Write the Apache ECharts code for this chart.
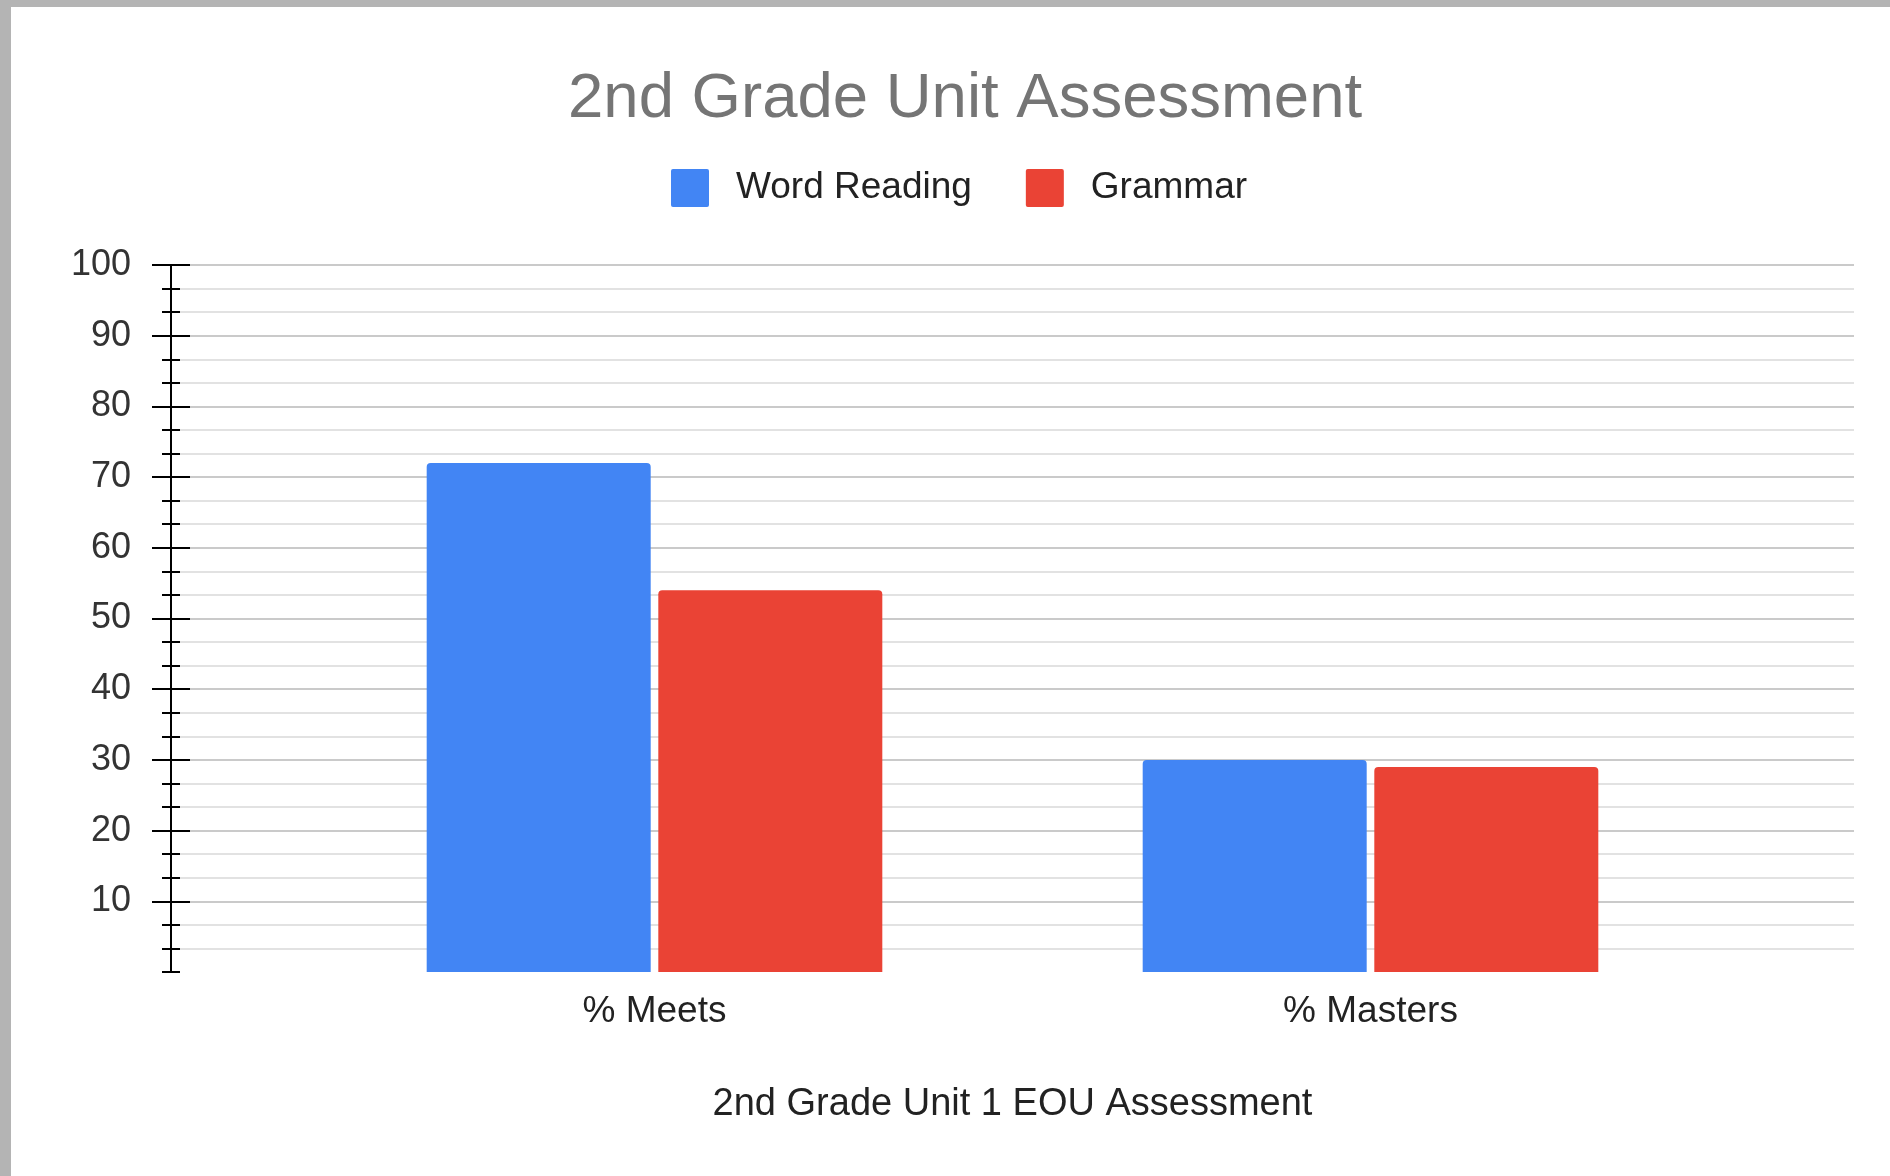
<!DOCTYPE html>
<html>
<head>
<meta charset="utf-8">
<script src="https://cdn.jsdelivr.net/npm/echarts@6/dist/echarts.min.js"></script>
<style>
  html, body { margin: 0; padding: 0; background: #b4b4b4; }
  #chart { position: absolute; left: 11px; top: 7px; width: 1879px; height: 1169px; background: #fff; }
</style>
</head>
<body>
<div id="chart"></div>
<script>
// data
const categories = ['% Meets', '% Masters'];
const wordReading = [72, 30];
const grammar = [54, 29];
const majorTicks = [10, 20, 30, 40, 50, 60, 70, 80, 90, 100];
const zeroTick = [0];

const FONT = "'Liberation Sans', Arial, sans-serif";
// 图例方块，小圆角
const ICON = 'path://M2,0 H36 A2,2 0 0 1 38,2 V36 A2,2 0 0 1 36,38 H2 A2,2 0 0 1 0,36 V2 A2,2 0 0 1 2,0 Z';

const chart = echarts.init(document.getElementById('chart'));

// y轴：刻度穿过轴线，所以用两根轴叠在一起（一根朝外，一根朝内）
const baseY = {
  type: 'value',
  gridIndex: 0,
  min: 0,
  max: 100,
  interval: 10,
  position: 'left',
  axisLine: { show: false },
  axisLabel: { show: false },
  splitLine: { show: false },
  minorSplitLine: { show: false },
};

const option = {
  animation: false,
  backgroundColor: '#fff',
  title: {
    text: '2nd Grade Unit Assessment',
    left: 552,
    top: 55,
    textStyle: { fontFamily: FONT, fontSize: 63.5, fontWeight: 'normal', color: '#757575' },
  },
  legend: {
    left: 655,
    top: 157,
    itemWidth: 38,
    itemHeight: 38,
    itemGap: 54,
    icon: ICON,
    selectedMode: false,
    textStyle: { fontFamily: FONT, fontSize: 37, color: '#222', padding: [0, 0, 0, 22] },
  },
  grid: [
    { left: 160, right: 36, top: 258, bottom: 204 },
    { left: 285.5, right: 161.5, top: 258, bottom: 204 },
  ],
  xAxis: [
    { type: 'category', gridIndex: 0, data: categories, show: false },
    {
      type: 'category',
      gridIndex: 1,
      data: categories,
      axisLine: { show: false },
      axisTick: { show: false },
      axisLabel: { fontFamily: FONT, fontSize: 37, color: '#222', margin: 21 },
      name: '2nd Grade Unit 1 EOU Assessment',
      nameLocation: 'middle',
      nameGap: 114,
      nameTextStyle: { fontFamily: FONT, fontSize: 38, color: '#222' },
    },
  ],
  yAxis: [
    {
      ...baseY,
      axisLine: { show: true, lineStyle: { color: '#000', width: 2 } },
      axisTick: { show: true, customValues: majorTicks, length: 19, lineStyle: { color: '#000', width: 2 } },
      minorTick: { show: true, splitNumber: 3, length: 9, lineStyle: { color: '#000', width: 2 } },
      axisLabel: {
        show: true,
        customValues: majorTicks,
        margin: 40,
        fontFamily: FONT,
        fontSize: 36,
        color: '#333',
      },
      splitLine: { show: true, lineStyle: { color: '#cacaca', width: 2 } },
      minorSplitLine: { show: true, lineStyle: { color: '#e2e2e2', width: 2 } },
    },
    {
      ...baseY,
      axisTick: { show: true, inside: true, customValues: majorTicks, length: 19, lineStyle: { color: '#000', width: 2 } },
      minorTick: { show: true, splitNumber: 3, length: 9, lineStyle: { color: '#000', width: 2 } },
    },
    {
      ...baseY,
      axisTick: { show: true, customValues: zeroTick, length: 9, lineStyle: { color: '#000', width: 2 } },
    },
    {
      ...baseY,
      axisTick: { show: true, inside: true, customValues: zeroTick, length: 9, lineStyle: { color: '#000', width: 2 } },
    },
    { type: 'value', gridIndex: 1, min: 0, max: 100, show: false },
  ],
  series: [
    {
      type: 'bar',
      name: 'Word Reading',
      data: wordReading,
      xAxisIndex: 1,
      yAxisIndex: 4,
      barWidth: 224,
      barGap: '3.4%',
      itemStyle: { color: '#4285f4', borderRadius: [4, 4, 0, 0] },
    },
    {
      type: 'bar',
      name: 'Grammar',
      data: grammar,
      xAxisIndex: 1,
      yAxisIndex: 4,
      barWidth: 224,
      barGap: '3.4%',
      itemStyle: { color: '#ea4335', borderRadius: [4, 4, 0, 0] },
    },
  ],
};

chart.setOption(option);
</script>
</body>
</html>
